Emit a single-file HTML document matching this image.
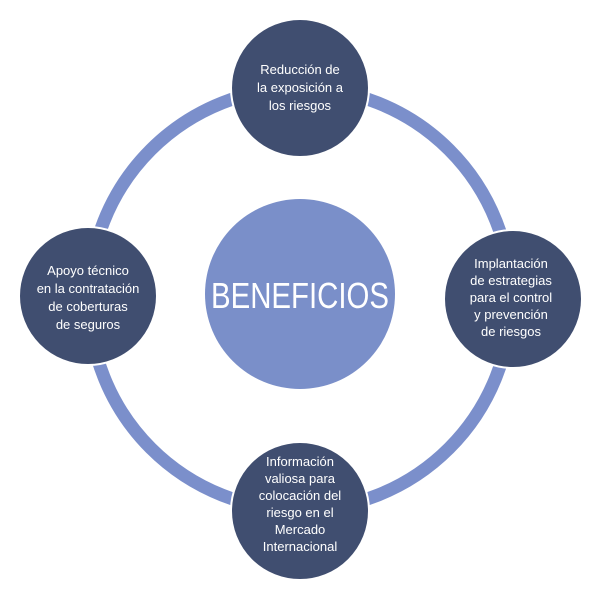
<!DOCTYPE html>
<html><head><style>
body{margin:0;background:#fff;}
svg text{font-family:"Liberation Sans","DejaVu Sans",sans-serif;fill:#fff;text-anchor:middle;}
</style></head><body>
<svg width="603" height="592" viewBox="0 0 603 592" xmlns="http://www.w3.org/2000/svg">
<circle cx="300" cy="299" r="211" fill="none" stroke="#7b8fcb" stroke-width="13"/>
<circle cx="300" cy="294" r="95" fill="#7a8fc9"/>
<text x="300" y="308" font-size="36" textLength="178" lengthAdjust="spacingAndGlyphs">BENEFICIOS</text>
<g fill="#404e70" stroke="#fff" stroke-width="2">
<circle cx="300" cy="88" r="69"/>
<circle cx="300" cy="511" r="69"/>
<circle cx="88" cy="296" r="69"/>
<circle cx="513" cy="299" r="69"/>
</g>
<g font-size="13">
<text x="300" y="74">Reducción de</text>
<text x="300" y="92">la exposición a</text>
<text x="300" y="110">los riesgos</text>
<text x="88" y="275">Apoyo técnico</text>
<text x="88" y="293">en la contratación</text>
<text x="88" y="311">de coberturas</text>
<text x="88" y="329">de seguros</text>
<text x="511" y="268">Implantación</text>
<text x="511" y="285">de estrategias</text>
<text x="511" y="302">para el control</text>
<text x="511" y="319">y prevención</text>
<text x="511" y="336">de riesgos</text>
<text x="300" y="466">Información</text>
<text x="300" y="483">valiosa para</text>
<text x="300" y="500">colocación del</text>
<text x="300" y="517">riesgo en el</text>
<text x="300" y="534">Mercado</text>
<text x="300" y="551">Internacional</text>
</g>
</svg>
</body></html>
